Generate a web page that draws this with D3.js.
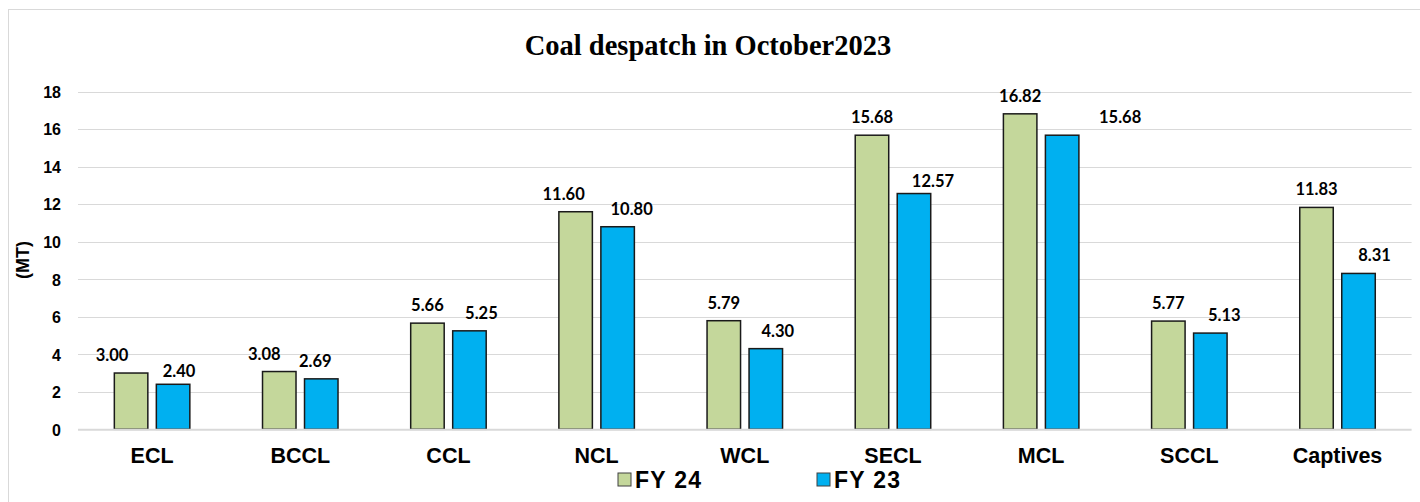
<!DOCTYPE html>
<html>
<head>
<meta charset="utf-8">
<script src="https://cdn.jsdelivr.net/npm/d3@7"></script>
<style>
  html, body { margin: 0; padding: 0; background: #ffffff; }
  svg { display: block; }
</style>
</head>
<body>
<svg id="chart" width="1420" height="502"></svg>
<script>
// ---- data ----
const categories = ["ECL", "BCCL", "CCL", "NCL", "WCL", "SECL", "MCL", "SCCL", "Captives"];
const seriesNames = ["FY 24", "FY 23"];
const fy24 = [3.00, 3.08, 5.66, 11.60, 5.79, 15.68, 16.82, 5.77, 11.83];
const fy23 = [2.40, 2.69, 5.25, 10.80, 4.30, 12.57, 15.68, 5.13, 8.31];
const yTicks = [0, 2, 4, 6, 8, 10, 12, 14, 16, 18];
const titleText = "Coal despatch in October2023";
const yAxisLabel = "(MT)";

// ---- style (label nudges, px, relative to bar centre) ----
const seriesColors = ["#C4D79B", "#00B0F0"];
const labelDxFY24 = [-19, -15, 0, -12, 0, 0, 0, 0, 0];
const labelDxFY23 = [6, -6, 12, 14, 12, 19, 58, 14, 16];
const labelDyFY24 = [0, 0, 0, 0, 0, 0, 0, 0, 0];
const labelDyFY23 = [5, 0, 0, 0, 0, 5, 0, 0, 0];

const svg = d3.select("#chart");
const plot = { left: 78, right: 1411.6, top: 91.7, bottom: 429.3 };

// outer border
svg.append("rect")
  .attr("x", 8.5).attr("y", 9.5)
  .attr("width", 1420).attr("height", 500)
  .attr("fill", "#fff").attr("stroke", "#d9d9d9").attr("stroke-width", 1);

const y = d3.scaleLinear().domain([0, 18]).range([plot.bottom, plot.top]);

const pIn = 1 - 75.5 / ((plot.right - plot.left) / categories.length);
const x0 = d3.scaleBand().domain(categories)
  .range([plot.left, plot.right])
  .paddingInner(pIn).paddingOuter(pIn / 2);
const x1 = d3.scaleBand().domain(seriesNames)
  .range([0, x0.bandwidth()])
  .paddingInner(8.5 / 42).paddingOuter(0);

// gridlines
const grid = svg.append("g");
grid.selectAll("line").data(yTicks.filter(d => d !== 0)).join("line")
  .attr("x1", plot.left).attr("x2", plot.right)
  .attr("y1", d => Math.round(y(d)) + 0.5).attr("y2", d => Math.round(y(d)) + 0.5)
  .attr("stroke", "#d9d9d9").attr("stroke-width", 1);

// y axis tick labels
const yAxis = d3.axisLeft(y).tickValues(yTicks).tickSize(0).tickPadding(0).tickFormat(d3.format("d"));
const gy = svg.append("g").attr("transform", `translate(${61},0)`).call(yAxis);
gy.select(".domain").remove();
gy.selectAll("text")
  .attr("font-family", "'Liberation Sans', Arial, sans-serif")
  .attr("font-weight", "bold").attr("font-size", "16px").attr("fill", "#000")
  .attr("dy", "0.36em");

// y axis title
svg.append("text")
  .attr("transform", `translate(29,${260}) rotate(-90)`)
  .attr("text-anchor", "middle")
  .attr("font-family", "'Liberation Sans', Arial, sans-serif")
  .attr("font-weight", "bold").attr("font-size", "18px").attr("fill", "#000")
  .text(yAxisLabel);

// bars
const rows = categories.map((c, i) => ({
  cat: c,
  vals: [
    { s: seriesNames[0], v: fy24[i], dx: labelDxFY24[i], dy: labelDyFY24[i], k: 0 },
    { s: seriesNames[1], v: fy23[i], dx: labelDxFY23[i], dy: labelDyFY23[i], k: 1 }
  ]
}));

const groups = svg.append("g").selectAll("g").data(rows).join("g")
  .attr("transform", d => `translate(${x0(d.cat)},0)`);

groups.selectAll("rect").data(d => d.vals).join("rect")
  .attr("x", d => x1(d.s))
  .attr("y", d => y(d.v))
  .attr("width", x1.bandwidth())
  .attr("height", d => y(0) - y(d.v))
  .attr("fill", d => seriesColors[d.k])
  .attr("stroke", "#1a1a1a").attr("stroke-width", 1.5);

// baseline
svg.append("line")
  .attr("x1", plot.left).attr("x2", plot.right)
  .attr("y1", y(0) + 0.5).attr("y2", y(0) + 0.5)
  .attr("stroke", "#d9d9d9").attr("stroke-width", 2);

// value labels
groups.selectAll("text.val").data(d => d.vals).join("text")
  .attr("class", "val")
  .attr("x", d => x1(d.s) + x1.bandwidth() / 2 + d.dx)
  .attr("y", d => y(d.v) - 12 + d.dy)
  .attr("text-anchor", "middle")
  .attr("font-family", "Lato, 'Open Sans', sans-serif")
  .attr("font-weight", "bold").attr("font-size", "16.5px").attr("fill", "#000")
  .text(d => d3.format(".2f")(d.v));

// category labels
const xAxis = d3.axisBottom(x0).tickSize(0).tickPadding(0);
const gx = svg.append("g").attr("transform", `translate(0,${463})`).call(xAxis);
gx.select(".domain").remove();
gx.selectAll("text")
  .attr("font-family", "'Liberation Sans', Arial, sans-serif")
  .attr("font-weight", "bold").attr("font-size", "21.5px").attr("fill", "#000")
  .attr("dy", "0");

// title
svg.append("text")
  .attr("x", 708).attr("y", 55)
  .attr("text-anchor", "middle")
  .attr("font-family", "'Liberation Serif', 'Times New Roman', serif")
  .attr("font-weight", "bold").attr("font-size", "28.5px").attr("fill", "#000")
  .text(titleText);

// legend
const legendX = [618, 817];
const lg = svg.append("g").selectAll("g").data(seriesNames).join("g")
  .attr("transform", (d, i) => `translate(${legendX[i]},${473})`);
lg.append("rect")
  .attr("width", 13).attr("height", 13)
  .attr("fill", (d, i) => seriesColors[i])
  .attr("stroke", "#404040").attr("stroke-width", 1);
lg.append("text")
  .attr("x", 17).attr("y", 14.5)
  .attr("font-family", "'Liberation Sans', Arial, sans-serif")
  .attr("font-weight", "bold").attr("font-size", "23px").attr("fill", "#000")
  .attr("textLength", 66).attr("lengthAdjust", "spacing")
  .text(d => d);
</script>
</body>
</html>
